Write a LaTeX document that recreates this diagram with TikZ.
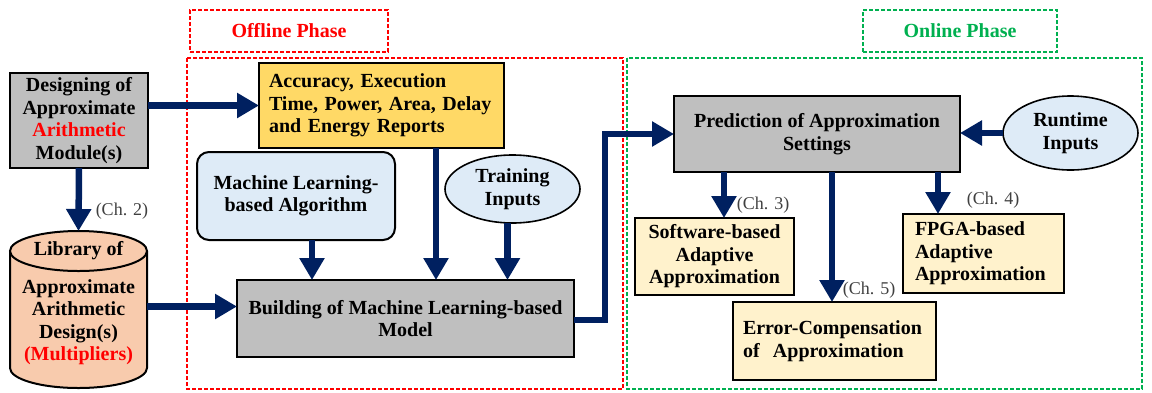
\documentclass[tikz,border=0pt]{standalone}
\usepackage{fontspec}
\setmainfont{Liberation Serif}
\usetikzlibrary{arrows.meta,calc,shapes.geometric}

\definecolor{navy}{RGB}{0,32,96}
\definecolor{boxgray}{RGB}{191,191,191}
\definecolor{repyellow}{RGB}{255,217,102}
\definecolor{paleblue}{RGB}{222,235,247}
\definecolor{paleyellow}{RGB}{255,242,204}
\definecolor{salmon}{RGB}{248,203,173}
\definecolor{phasered}{RGB}{255,0,0}
\definecolor{phasegreen}{RGB}{0,176,80}
\definecolor{chapgray}{RGB}{64,64,64}

\begin{document}
\begin{tikzpicture}[x=1pt,y=-1pt,
  every node/.style={inner sep=0pt, outer sep=0pt},
  body/.style={font=\fontsize{20}{22.5}\selectfont\bfseries},
  box/.style={body, draw=black, line width=2pt, align=center},
  flow/.style={draw=navy, line width=6.5pt, -{Triangle[length=22pt,width=24pt]}},
  chap/.style={font=\fontsize{18}{20}\selectfont, text=chapgray},
  phase/.style={dash pattern=on 4pt off 2pt, line width=1.3pt},
  drum/.style={line width=2pt, line join=round},
]
\useasboundingbox (0,0) rectangle (1152,392);

% phase frames and their titles
\draw[phase, draw=phasered] (187,58) rectangle (623,389);
\draw[phase, draw=phasegreen] (627,58) rectangle (1142,389);
\node[phase, draw=phasered, minimum width=198pt, minimum height=42pt,
      body, text=phasered] (offline) at (289,31) {Offline Phase};
\node[phase, draw=phasegreen, minimum width=194pt, minimum height=42pt,
      body, text=phasegreen] (online) at (960,31) {Online Phase};

% design of the arithmetic modules
\node[box, fill=boxgray, minimum width=138pt, minimum height=95pt] (design) at (79,120.5)
  {Designing of\\Approximate\\{\color{phasered}Arithmetic}\\Module(s)};

% library of designs: cylinder body with an elliptic lid
\node[minimum width=137pt, minimum height=157pt] (lib) at (78.5,309.5) {};
\draw[drum, fill=salmon]
  (10,251) -- (10,368)
  .. controls (10,379.05) and (40.67,388) .. (78.5,388)
  .. controls (116.33,388) and (147,379.05) .. (147,368)
  -- (147,251) -- cycle;
\node[ellipse, draw=black, line width=2pt, fill=salmon,
      minimum width=137pt, minimum height=40pt, body] (libtop) at (78.5,251) {Library of};
\node[body, align=center] (libtext) at (78.5,322)
  {Approximate\\Arithmetic\\Design(s)\\{\color{phasered}(Multipliers)}};

% offline phase
\node[box, fill=repyellow, minimum width=245pt, minimum height=85pt,
      text width=225pt, align=left] (report) at (381.5,105.5)
  {Accuracy, Execution\\Time, Power, Area, Delay\\and Energy Reports};
\node[box, fill=paleblue, rounded corners=12pt, minimum width=198pt, minimum height=88pt] (mlalg) at (296,196)
  {Machine Learning-\\based Algorithm};
\node[box, ellipse, fill=paleblue, line width=1.6pt, minimum width=135pt, minimum height=68pt] (train) at (512.5,189)
  {Training\\Inputs};
\node[box, fill=boxgray, minimum width=337pt, minimum height=77pt] (build) at (405.5,318.5)
  {Building of Machine Learning-based\\Model};

% online phase
\node[box, fill=boxgray, minimum width=286pt, minimum height=76pt] (pred) at (817,134)
  {Prediction of Approximation\\Settings};
\node[box, ellipse, fill=paleblue, line width=1.6pt, minimum width=135pt, minimum height=74pt] (runtime) at (1070.5,133)
  {Runtime\\Inputs};
\node[box, fill=paleyellow, minimum width=159pt, minimum height=77pt] (soft) at (714.5,256.5)
  {Software-based\\Adaptive\\Approximation};
\node[box, fill=paleyellow, minimum width=161pt, minimum height=79pt,
      text width=137pt, align=left] (fpga) at (983.5,253.5)
  {FPGA-based\\Adaptive\\Approximation};
\node[box, fill=paleyellow, minimum width=203pt, minimum height=78pt,
      text width=183pt, align=left] (errc) at (834.5,341)
  {Error-Compensation\\of~~Approximation};

% chapter labels
\node[chap] (ch2) at (122,211) {(Ch. 2)};
\node[chap] (ch3) at (763,205) {(Ch. 3)};
\node[chap] (ch4) at (993,200) {(Ch. 4)};
\node[chap] (ch5) at (869,290) {(Ch. 5)};

% flow arrows
\draw[flow] (design.east |- report.west) -- (report.west);
\draw[flow] (design.south) -- (libtop.north);
\draw[flow] ([yshift=3pt]lib.east) -- ([yshift=3pt]lib.east -| build.west);
\draw[flow] ([xshift=16pt]mlalg.south) -- ([xshift=16pt]mlalg.south |- build.north);
\draw[flow] ([xshift=54.5pt]report.south) -- ([xshift=54.5pt]report.south |- build.north);
\draw[flow] ([xshift=-5pt]train.south) -- ([xshift=-5pt]train.south |- build.north);
\draw[flow] ([yshift=-1.5pt]build.east) -- ++(31,0) |- (pred.west);
\draw[flow] (runtime.west) -- (runtime.west -| pred.east);
\draw[flow] ([xshift=-93pt]pred.south) -- ([xshift=-93pt]pred.south |- soft.north);
\draw[flow] ([xshift=15pt]pred.south) -- ([xshift=15pt]pred.south |- errc.north);
\draw[flow] ([xshift=121pt]pred.south) -- ([xshift=121pt]pred.south |- fpga.north);
\end{tikzpicture}
\end{document}
